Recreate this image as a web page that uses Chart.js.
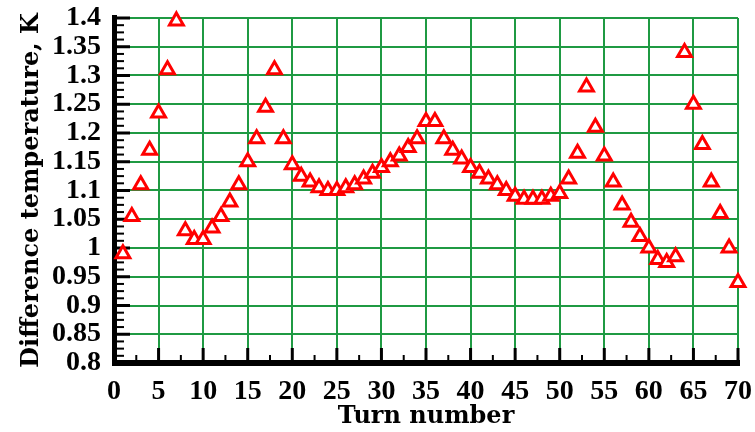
<!DOCTYPE html>
<html>
<head>
<meta charset="utf-8">
<script src="https://cdn.jsdelivr.net/npm/chart.js@4.4.0/dist/chart.umd.min.js"></script>
<style>
html, body { margin: 0; padding: 0; background: #fff; }
#wrap { width: 755px; height: 432px; }
</style>
</head>
<body>
<div id="wrap"><canvas id="grafico" width="755" height="432"></canvas></div>
<script>
// Dados
const turns = [1, 2, 3, 4, 5, 6, 7, 8, 9, 10,
    11, 12, 13, 14, 15, 16, 17, 18, 19, 20,
    21, 22, 23, 24, 25, 26, 27, 28, 29, 30,
    31, 32, 33, 34, 35, 36, 37, 38, 39, 40,
    41, 42, 43, 44, 45, 46, 47, 48, 49, 50,
    51, 52, 53, 54, 55, 56, 57, 58, 59, 60,
    61, 62, 63, 64, 65, 66, 67, 68, 69, 70];
const tempDiff = [0.99, 1.055, 1.11, 1.17, 1.235, 1.31, 1.395, 1.03, 1.015, 1.015,
    1.035, 1.055, 1.08, 1.11, 1.15, 1.19, 1.245, 1.31, 1.19, 1.145,
    1.125, 1.115, 1.105, 1.1, 1.1, 1.105, 1.11, 1.12, 1.13, 1.14,
    1.15, 1.16, 1.175, 1.19, 1.22, 1.22, 1.19, 1.17, 1.155, 1.14,
    1.13, 1.12, 1.11, 1.1, 1.09, 1.085, 1.085, 1.085, 1.09, 1.095,
    1.12, 1.165, 1.28, 1.21, 1.16, 1.115, 1.075, 1.045, 1.02, 1.0,
    0.98, 0.975, 0.985, 1.34, 1.25, 1.18, 1.115, 1.06, 1.0, 0.94];
const xTicks = [0, 5, 10, 15, 20, 25, 30, 35, 40, 45, 50, 55, 60, 65, 70];
const yTicks = [0.8, 0.85, 0.9, 0.95, 1, 1.05, 1.1, 1.15, 1.2, 1.25, 1.3, 1.35, 1.4];

const corGrade = '#1f9a43';
const corPonto = '#ff0000';

// Eixos pretos grossos com marcas para dentro
const eixosPlugin = {
    id: 'eixos',
    beforeDatasetsDraw(chart) {
        const { ctx, chartArea: a, scales: { x, y } } = chart;
        ctx.save();
        ctx.fillStyle = '#000';
        // marcas do eixo y (4 subdivisoes)
        for (let i = 0; i <= 48; i++) {
            const py = y.getPixelForValue(0.8 + i * 0.0125);
            if (i % 4 === 0) {
                ctx.fillRect(a.left, py - 1.5, 16, 3);
            } else {
                ctx.fillRect(a.left, py - 1, 10, 2);
            }
        }
        // marcas do eixo x
        for (let i = 0; i <= 28; i++) {
            const px = x.getPixelForValue(i * 2.5);
            if (i % 2 === 0) {
                ctx.fillRect(px - 1.5, a.bottom - 15, 3, 15);
            } else {
                ctx.fillRect(px - 1, a.bottom - 8, 2, 8);
            }
        }
        ctx.fillRect(a.left - 2, a.top - 3, 5, a.bottom - a.top + 6);
        ctx.fillRect(a.left - 2, a.bottom - 3, a.right - a.left + 4, 6);
        ctx.restore();
    }
};

const config = {
    type: 'scatter',
    data: {
        datasets: [{
            label: 'Difference temperature',
            data: turns.map((t, i) => ({ x: t, y: tempDiff[i] })),
            pointStyle: 'triangle',
            pointRadius: 8,
            pointHoverRadius: 8,
            borderWidth: 3,
            borderColor: corPonto,
            backgroundColor: '#fff',
            clip: false
        }]
    },
    options: {
        responsive: false,
        animation: false,
        events: [],
        layout: { padding: { top: 18, right: 17, left: 0, bottom: 0 } },
        plugins: {
            legend: { display: false },
            tooltip: { enabled: false }
        },
        scales: {
            x: {
                type: 'linear',
                min: 0,
                max: 70,
                afterBuildTicks: scale => { scale.ticks = xTicks.map(v => ({ value: v })); },
                afterFit: scale => {
                    scale.height = 69;
                    scale.paddingLeft = 0;
                    scale.paddingRight = 0;
                },
                grid: { color: corGrade, lineWidth: 2, drawTicks: false },
                border: { display: false },
                ticks: {
                    padding: 12,
                    color: '#000',
                    maxRotation: 0,
                    autoSkip: false,
                    font: { family: 'Liberation Serif', size: 28, weight: 'bold' }
                },
                title: {
                    display: true,
                    text: 'Turn number',
                    color: '#000',
                    padding: { top: 0, bottom: 1 },
                    font: { family: 'DejaVu Serif', size: 24, weight: 'bold' }
                }
            },
            y: {
                min: 0.8,
                max: 1.4,
                afterBuildTicks: scale => { scale.ticks = yTicks.map(v => ({ value: v })); },
                afterFit: scale => {
                    scale.width = 114;
                    scale.paddingTop = 0;
                    scale.paddingBottom = 0;
                },
                grid: { color: corGrade, lineWidth: 2, drawTicks: false },
                border: { display: false },
                ticks: {
                    padding: 13,
                    color: '#000',
                    autoSkip: false,
                    font: { family: 'Liberation Serif', size: 28, weight: 'bold' },
                    callback: v => String(Number(v.toFixed(2)))
                },
                title: {
                    display: true,
                    text: 'Difference temperature, K',
                    color: '#000',
                    padding: { top: 17, bottom: 0 },
                    font: { family: 'DejaVu Serif', size: 24, weight: 'bold' }
                }
            }
        }
    },
    plugins: [eixosPlugin]
};

new Chart(document.getElementById('grafico').getContext('2d'), config);
</script>
</body>
</html>
